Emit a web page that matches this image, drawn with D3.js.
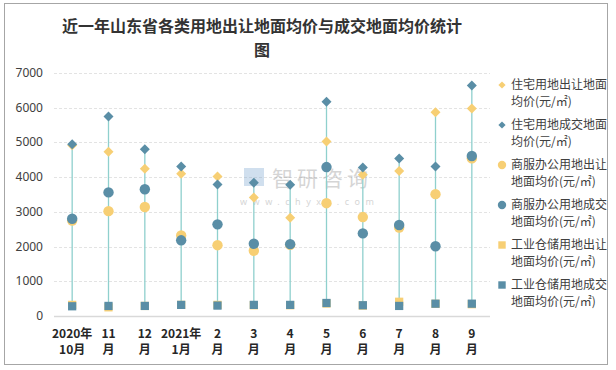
<!DOCTYPE html>
<html><head><meta charset="utf-8">
<script src="https://cdn.jsdelivr.net/npm/d3@7/dist/d3.min.js"></script>
<style>body{margin:0;background:#fff}svg{display:block}</style>
</head><body>
<svg id="c" width="616" height="370"></svg>
<script>
const catLine1 = ["2020年","11","12","2021年","2","3","4","5","6","7","8","9"];
const catLine2 = ["10月","月","月","1月","月","月","月","月","月","月","月","月"];
const seriesNames = ["住宅用地出让地面均价(元/㎡)","住宅用地成交地面均价(元/㎡)","商服办公用地出让地面均价(元/㎡)","商服办公用地成交地面均价(元/㎡)","工业仓储用地出让地面均价(元/㎡)","工业仓储用地成交地面均价(元/㎡)"];
const legendLines = [["住宅用地出让地面","均价(元/㎡)"],["住宅用地成交地面","均价(元/㎡)"],["商服办公用地出让","地面均价(元/㎡)"],["商服办公用地成交","地面均价(元/㎡)"],["工业仓储用地出让","地面均价(元/㎡)"],["工业仓储用地成交","地面均价(元/㎡)"]];
const resTransfer = [4920,4730,4240,4100,4020,3410,2830,5030,4070,4180,5870,5980];
const resDeal     = [4950,5750,4800,4310,3790,3840,3780,6170,4280,4540,4310,6640];
const comTransfer = [2750,3020,3140,2320,2040,1880,2050,3250,2850,2550,3510,4540];
const comDeal     = [2800,3560,3650,2180,2640,2080,2070,4290,2380,2620,2010,4610];
const indTransfer = [320,250,290,320,320,310,310,360,300,410,350,340];
const indDeal     = [280,290,290,320,300,320,320,375,310,290,355,355];
const yTicks = [0,1000,2000,3000,4000,5000,6000,7000];

const series = [resTransfer,resDeal,comTransfer,comDeal,indTransfer,indDeal];
const colors = ["#f7cf74","#5a8ea6","#f7cf74","#5a8ea6","#f7cf74","#5a8ea6"];
const shapes = [d3.symbolSquare,d3.symbolSquare,d3.symbolCircle,d3.symbolCircle,d3.symbolSquare,d3.symbolSquare];
const rot = [45,45,0,0,0,0];
const sizes = [50,50,85,85,68,68];
const legSizes = [26,26,55,55,55,55];

const svg = d3.select("#c");
svg.append("rect").attr("x",4.5).attr("y",3.5).attr("width",603).attr("height",361)
  .attr("fill","#fff").attr("stroke","#a6a6a6");

const x = d3.scaleBand().domain(d3.range(12)).range([54,490]);
const y = d3.scaleLinear().domain([0,7000]).range([316,73]);

// title
const title = svg.append("text").attr("text-anchor","middle")
  .attr("font-family","'Noto Sans CJK SC'").attr("font-size",16).attr("font-weight","bold").attr("fill","#333");
title.append("tspan").attr("x",262).attr("y",32).text("近一年山东省各类用地出让地面均价与成交地面均价统计");
title.append("tspan").attr("x",262).attr("y",56).text("图");

// grid
svg.append("g").selectAll("line").data(yTicks.filter(d=>d>0)).join("line")
  .attr("x1",54).attr("x2",490).attr("y1",d=>Math.round(y(d))+0.5).attr("y2",d=>Math.round(y(d))+0.5)
  .attr("stroke","#e3e3e3").attr("stroke-dasharray","3,2");
svg.append("line").attr("x1",54).attr("x2",490).attr("y1",316.5).attr("y2",316.5).attr("stroke","#d9d9d9").attr("stroke-width",1.5);

// y labels
svg.append("g").selectAll("text").data(yTicks).join("text")
  .attr("x",43).attr("y",d=>y(d)+4).attr("text-anchor","end")
  .attr("font-family","'Noto Sans', sans-serif").attr("font-size",12).attr("fill","#404040").text(d=>d);

// x labels
const xl = svg.append("g").selectAll("text").data(d3.range(12)).join("text")
  .attr("text-anchor","middle").attr("font-family","'Noto Sans CJK SC'").attr("font-size",12)
  .attr("font-weight","bold").attr("fill","#262626");
xl.append("tspan").attr("x",i=>x(i)+x.bandwidth()/2).attr("y",338).text(i=>catLine1[i]);
xl.append("tspan").attr("x",i=>x(i)+x.bandwidth()/2).attr("y",354).text(i=>catLine2[i]);

// watermark
const wm = svg.append("g").attr("opacity",0.35);
wm.append("text").attr("x",272).attr("y",186).attr("font-family","'Noto Sans CJK SC'").attr("font-size",21)
  .attr("fill","#888").attr("letter-spacing",4).text("智研咨询");
wm.append("text").attr("x",240).attr("y",205).attr("font-family","'Noto Sans'").attr("font-size",9)
  .attr("fill","#888").attr("letter-spacing",5.5).text("www.chyxx.com");
wm.append("rect").attr("x",244).attr("y",168).attr("width",20).attr("height",18).attr("fill","#7aa6cf");

// high-low lines
svg.append("g").selectAll("line").data(d3.range(12)).join("line")
  .attr("x1",i=>x(i)+x.bandwidth()/2).attr("x2",i=>x(i)+x.bandwidth()/2)
  .attr("y1",i=>y(d3.max(series,s=>s[i]))).attr("y2",i=>y(d3.min(series,s=>s[i])))
  .attr("stroke","#8fd0cd").attr("stroke-width",1.3);

// markers
series.forEach((s,k)=>{
  svg.append("g").selectAll("path").data(s).join("path")
    .attr("transform",(d,i)=>`translate(${x(i)+x.bandwidth()/2},${y(d)}) rotate(${rot[k]})`)
    .attr("d",d3.symbol().type(shapes[k]).size(sizes[k]))
    .attr("fill",colors[k]);
});

// legend
const lg = svg.append("g");
seriesNames.forEach((n,k)=>{
  const cy = 85 + k*40;
  lg.append("path").attr("transform",`translate(502,${cy}) rotate(${rot[k]})`)
    .attr("d",d3.symbol().type(shapes[k]).size(legSizes[k])).attr("fill",colors[k]);
  const t = lg.append("text").attr("font-family","'Noto Sans CJK SC'").attr("font-size",12).attr("fill","#404040");
  t.append("tspan").attr("x",511).attr("y",cy+4).text(legendLines[k][0]);
  t.append("tspan").attr("x",511).attr("y",cy+21).text(legendLines[k][1]);
});
</script>
</body></html>
